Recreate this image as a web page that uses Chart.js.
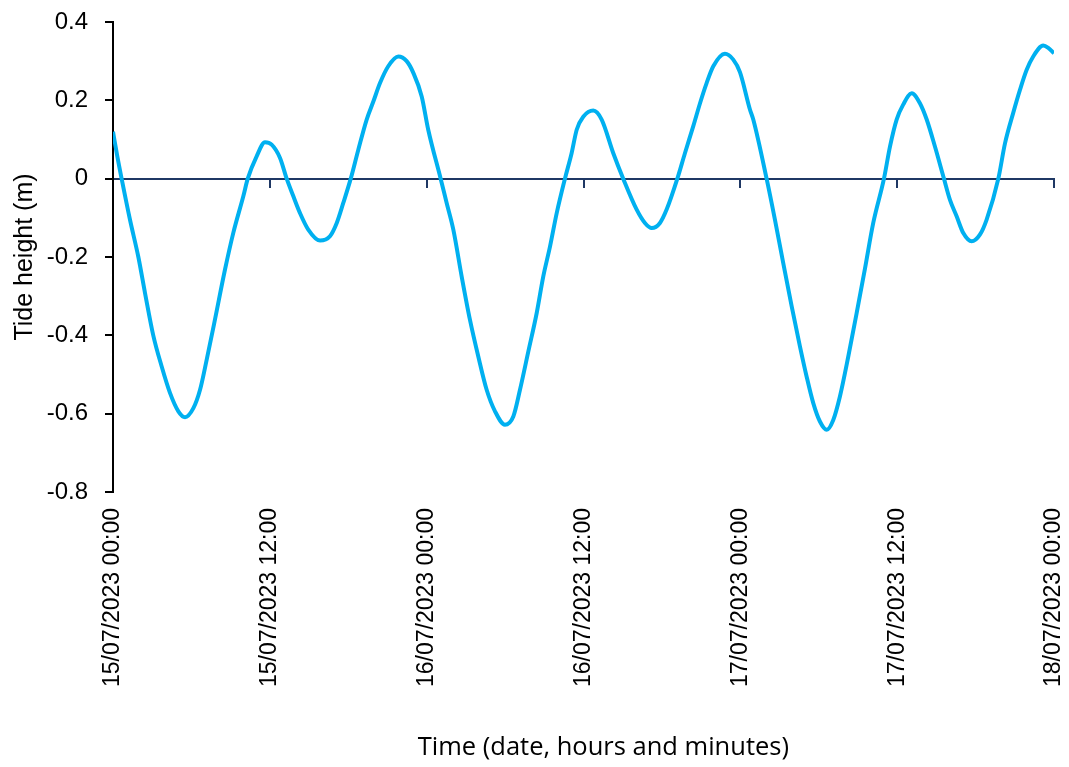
<!DOCTYPE html>
<html>
<head>
<meta charset="utf-8">
<script src="https://cdn.jsdelivr.net/npm/chart.js@4"></script>
<style>
  html, body { margin: 0; background: #fff; }
  #wrap { width: 1069px; height: 767px; }
</style>
</head>
<body>
<div id="wrap"><canvas id="tideChart"></canvas></div>
<script>
// Data (hours since 15/07/2023 00:00, tide height in m)
const hours = [0, 0.33, 0.66, 1.3, 1.94, 2.45, 3.08, 3.72, 4.36, 5.0, 5.51, 6.15,
  6.66, 7.17, 7.8, 8.57, 9.2, 9.97, 10.31, 10.99, 11.63,
  12.14, 12.78, 13.29, 13.8, 14.31, 14.94, 15.84, 16.6, 17.12, 17.62, 18.19, 18.77,
  19.41, 19.92, 20.43, 21.06, 21.83, 22.47, 22.98, 23.62, 24.12,
  25.07, 25.53, 26.04, 26.68, 27.31, 27.95, 28.59, 29.23, 29.99, 30.63, 31.14,
  31.78, 32.42, 32.92, 33.44, 33.95, 34.58, 35.09, 35.48, 35.98,
  36.75, 37.39, 38.28, 39.04, 40.07, 40.7, 41.22, 41.85, 42.36, 43.18, 43.76,
  44.4, 44.91, 45.42, 45.93, 46.82, 47.46, 47.97, 48.74,
  48.99, 50.01, 50.65, 51.28, 51.93, 52.56, 53.07, 53.58, 54.09, 54.61, 55.11,
  55.62, 56.26, 56.9, 57.54, 58.17, 58.99, 59.45, 59.96, 60.46,
  61.11, 61.75, 62.26, 62.89, 63.58, 64.04, 64.55, 65.06, 65.7, 66.33, 66.84,
  67.74, 68.25, 68.88, 69.39, 69.91, 70.41, 71.18, 71.56, 72];
const tide = [0.12, 0.057, 0, -0.105, -0.2, -0.292, -0.4, -0.479, -0.547, -0.594, -0.609, -0.586,
  -0.539, -0.462, -0.36, -0.232, -0.139, -0.045, 0, 0.057, 0.093,
  0.087, 0.053, 0, -0.045, -0.088, -0.13, -0.158, -0.147, -0.113, -0.062, 0, 0.074,
  0.151, 0.197, 0.244, 0.287, 0.312, 0.3, 0.27, 0.21, 0.125,
  0, -0.062, -0.13, -0.25, -0.36, -0.454, -0.539, -0.594, -0.628, -0.607, -0.539,
  -0.441, -0.343, -0.25, -0.173, -0.088, 0, 0.065, 0.125, 0.158,
  0.174, 0.151, 0.065, 0, -0.079, -0.113, -0.126, -0.113, -0.079, 0, 0.065,
  0.134, 0.192, 0.244, 0.287, 0.319, 0.304, 0.272, 0.176,
  0.151, 0, -0.105, -0.215, -0.326, -0.428, -0.505, -0.573, -0.62, -0.641, -0.616,
  -0.556, -0.454, -0.343, -0.229, -0.113, 0, 0.082, 0.151, 0.189,
  0.218, 0.192, 0.151, 0.082, 0, -0.054, -0.096, -0.139, -0.16, -0.143, -0.105,
  0, 0.09, 0.168, 0.226, 0.278, 0.312, 0.34, 0.334, 0.32];

const tickHours  = [0, 12, 24, 36, 48, 60, 72];
const tickLabels = ['15/07/2023 00:00', '15/07/2023 12:00', '16/07/2023 00:00',
  '16/07/2023 12:00', '17/07/2023 00:00', '17/07/2023 12:00', '18/07/2023 00:00'];

const FONT = "'Liberation Sans', Arial, sans-serif";
const NAVY = '#1f3864';

const ctx = document.getElementById('tideChart').getContext('2d');
new Chart(ctx, {
  type: 'line',
  data: {
    datasets: [{
      label: 'Tide height',
      data: hours.map((h, i) => ({ x: h, y: tide[i] })),
      borderColor: '#00b0f0',
      borderWidth: 4,
      pointRadius: 0,
      cubicInterpolationMode: 'monotone',
      fill: false
    }]
  },
  options: {
    responsive: true,
    maintainAspectRatio: false,
    animation: false,
    layout: { padding: { top: 22, right: 15, left: 0, bottom: 0 } },
    plugins: { legend: { display: false }, tooltip: { enabled: false } },
    scales: {
      x: {
        type: 'linear', position: 'bottom', min: 0, max: 72,
        afterFit: s => { s.height = 275; s.paddingLeft = 0; s.paddingRight = 0; },
        afterBuildTicks: s => { s.ticks = tickHours.map(v => ({ value: v })); },
        border: { display: false },
        grid: { display: false, drawTicks: false },
        ticks: {
          autoSkip: false, minRotation: 90, maxRotation: 90, padding: 16,
          color: '#000', font: { family: FONT, size: 23 },
          callback: v => tickLabels[tickHours.indexOf(v)]
        },
        title: {
          display: true, text: '\u00a0\u00a0\u00a0\u00a0\u00a0\u00a0Time (date, hours and minutes)',
          color: '#000', font: { family: "'Open Sans', sans-serif", size: 25.5 },
          padding: { top: 0, bottom: 4 }
        }
      },
      xZero: {
        type: 'linear', position: { y: 0 }, min: 0, max: 72,
        afterBuildTicks: s => { s.ticks = tickHours.map(v => ({ value: v })); },
        border: { display: true, color: NAVY, width: 2 },
        grid: { drawOnChartArea: false, drawTicks: true, tickLength: 8, tickColor: NAVY, lineWidth: 2 },
        ticks: { display: false }
      },
      y: {
        min: -0.8, max: 0.4,
        afterFit: s => { s.width = 113; s.paddingTop = 0; s.paddingBottom = 0; },
        border: { display: true, color: '#000', width: 2 },
        grid: { drawOnChartArea: false, drawTicks: true, tickLength: 8, tickColor: '#000', lineWidth: 2 },
        ticks: {
          stepSize: 0.2, padding: 17, color: '#000',
          font: { family: FONT, size: 24 },
          callback: v => Math.abs(v) < 1e-9 ? '0' : +v.toFixed(1)
        },
        title: {
          display: true, text: 'Tide height (m)',
          color: '#000', font: { family: FONT, size: 25 },
          padding: { top: 10, bottom: 0 }
        }
      }
    }
  }
});
</script>
</body>
</html>
